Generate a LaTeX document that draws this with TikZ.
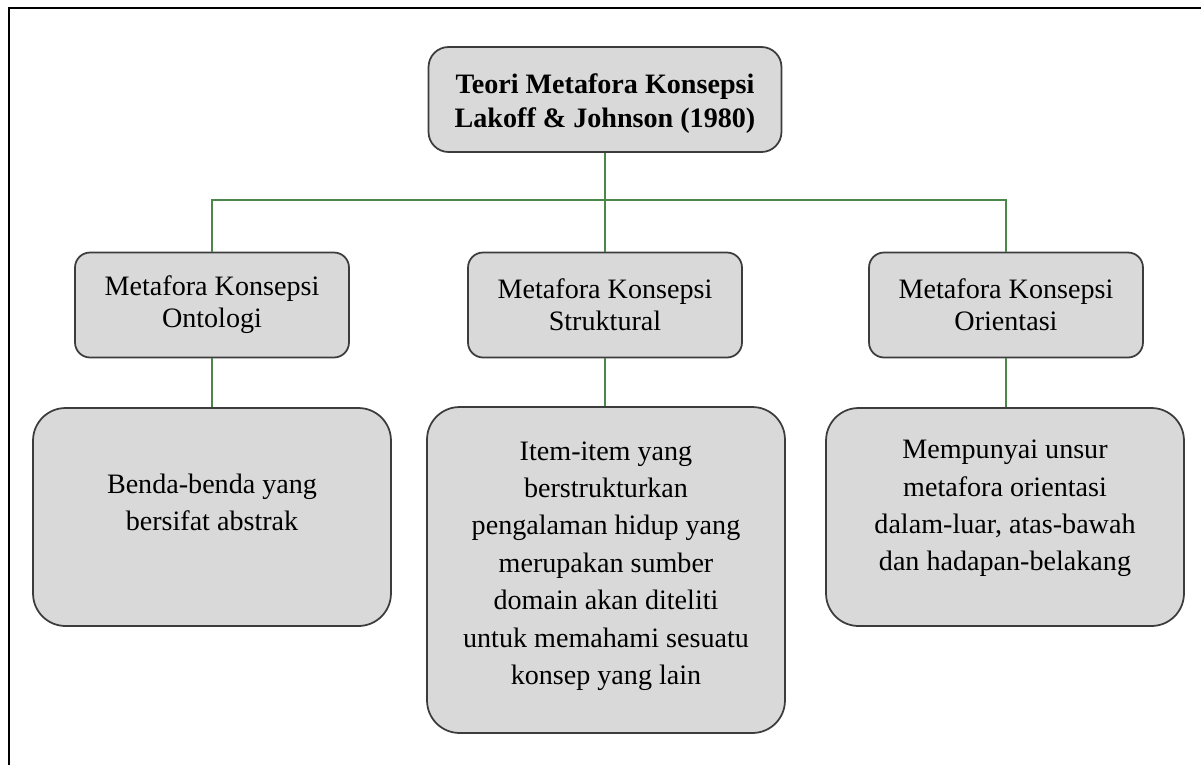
\documentclass[tikz,border=0pt]{standalone}
\usepackage{fontspec}
\setmainfont{Liberation Serif}
\definecolor{boxfill}{RGB}{217,217,217}
\definecolor{boxline}{RGB}{60,60,60}
\definecolor{linkgreen}{RGB}{75,135,75}
\begin{document}
\begin{tikzpicture}[x=0.02cm, y=-0.02cm,
    every node/.style={align=center},
    box/.style={draw=boxline, fill=boxfill, line width=1pt, inner sep=0pt},
    topbox/.style={box, rounded corners=0.4cm, minimum width=7.06cm, minimum height=2.1cm,
        font=\fontsize{16}{18.8}\selectfont\bfseries},
    midbox/.style={box, rounded corners=0.3cm, minimum width=5.48cm, minimum height=2.1cm,
        font=\fontsize{16}{18.2}\selectfont},
    leafbox/.style={box, rounded corners=0.65cm, minimum width=7.16cm,
        font=\fontsize{16}{21.3}\selectfont},
    link/.style={draw=linkgreen, line width=0.7pt}]
    % Frame and picture size
    \useasboundingbox (0,0) rectangle (1201,765);
    \draw[line width=1.2pt] (1201,8) -- (9,8) -- (9,765);

    % Root
    \node[topbox, text height=1.22cm] (teori) at (605,99.5) {Teori Metafora Konsepsi \\ Lakoff \& Johnson (1980)};

    % Second row (Ontologi, Struktural, Orientasi)
    \node[midbox] (ontologi) at (212,305) {Metafora Konsepsi \\ Ontologi};
    \node[midbox] (struktural) at (605,305) {Metafora Konsepsi \\ Struktural};
    \node[midbox] (orientasi) at (1006,305) {Metafora Konsepsi \\ Orientasi};

    % Descriptions
    \node[leafbox, minimum height=4.36cm, text depth=0.6cm] (benda) at (212,517)
        {Benda-benda yang \\ bersifat abstrak};
    \node[leafbox, minimum height=6.52cm, text depth=0.28cm] (item) at (606,570)
        {Item-item yang \\ berstrukturkan \\ pengalaman hidup yang \\ merupakan sumber \\
         domain akan diteliti \\ untuk memahami sesuatu \\ konsep yang lain};
    \node[leafbox, minimum height=4.36cm, text depth=0.46cm] (unsur) at (1005,517)
        {Mempunyai unsur \\ metafora orientasi \\ dalam-luar, atas-bawah \\ dan hadapan-belakang};

    % Connections
    \coordinate (split) at (605,200);
    \draw[link] (teori.south) -- (split);
    \draw[link] (ontologi.north) |- (split) -| (orientasi.north);
    \draw[link] (split) -- (struktural.north);
    \draw[link] (ontologi.south) -- (ontologi.south |- benda.north);
    \draw[link] (struktural.south) -- (struktural.south |- item.north);
    \draw[link] (orientasi.south) -- (orientasi.south |- unsur.north);
\end{tikzpicture}
\end{document}
